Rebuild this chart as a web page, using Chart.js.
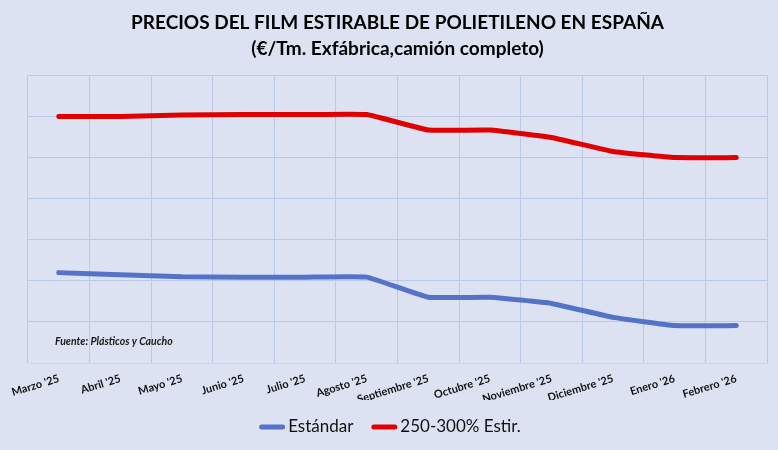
<!DOCTYPE html>
<html>
<head>
<meta charset="utf-8">
<script src="https://cdn.jsdelivr.net/npm/chart.js@4.4.1/dist/chart.umd.min.js"></script>
<style>
html,body{margin:0;padding:0;background:#DCE2F2;}
#wrap{width:778px;height:450px;position:relative;}
</style>
</head>
<body>
<div id="wrap"><canvas id="c" width="778" height="450"></canvas></div>
<script>
const categories = ["Marzo '25","Abril '25","Mayo '25","Junio '25","Julio '25","Agosto '25","Septiembre '25","Octubre '25","Noviembre '25","Diciembre '25","Enero '26","Febrero '26"];
const estandar = [1220,1215,1210,1209,1209,1209,1160,1160,1145,1111,1091,1091];
const estirado = [1600,1600,1604,1605,1605,1605,1567,1567,1549,1515,1500,1500];
const seriesNames = ["Estándar","250-300% Estir."];
const titleLines = ["PRECIOS DEL FILM ESTIRABLE DE POLIETILENO EN ESPAÑA","(€/Tm. Exfábrica,camión completo)"];
const sourceNote = "Fuente: Plásticos y Caucho";

const FONT = "Lato, 'Open Sans', sans-serif";
const sourcePlugin = {
  id:'sourceNote',
  afterDatasetsDraw(chart){
    const {ctx, chartArea} = chart;
    ctx.save();
    ctx.font = "italic bold 10.5px " + FONT;
    ctx.fillStyle = "#1a1a1a";
    ctx.textBaseline = "alphabetic";
    ctx.fillText(sourceNote, chartArea.left + 27, chartArea.bottom - 18);
    ctx.restore();
  }
};
const bgPlugin = {
  id:'bg',
  beforeDraw(chart){
    const ctx = chart.ctx;
    ctx.save();
    ctx.fillStyle = "#DCE2F2";
    ctx.fillRect(0,0,chart.width,chart.height);
    ctx.restore();
  }
};
const legendPlugin = {
  id:'customLegend',
  afterDraw(chart){
    const ctx = chart.ctx;
    ctx.save();
    ctx.font = "17px " + FONT;
    const marker = 26, gapText = 3, gapItem = 18;
    const items = chart.data.datasets.map(d => ({text:d.label, color:d.borderColor, w: marker + gapText + ctx.measureText(d.label).width}));
    const total = items.reduce((a,b)=>a+b.w,0) + gapItem*(items.length-1);
    let x = (chart.width - total)/2 + 1;
    const y = 427;
    items.forEach(it => {
      ctx.strokeStyle = it.color;
      ctx.lineWidth = 5;
      ctx.lineCap = 'round';
      ctx.beginPath();
      ctx.moveTo(x+2.5, y);
      ctx.lineTo(x+marker-2.5, y);
      ctx.stroke();
      ctx.fillStyle = "#111";
      ctx.textBaseline = 'middle';
      ctx.fillText(it.text, x + marker + gapText, y);
      x += it.w + gapItem;
    });
    ctx.restore();
  }
};

new Chart(document.getElementById('c'), {
  type:'line',
  data:{
    labels:categories,
    datasets:[
      {label:seriesNames[0], data:estandar, borderColor:"#5472C8", backgroundColor:"#5472C8", borderWidth:5, pointRadius:0, borderJoinStyle:'round', borderCapStyle:'round', tension:0.1},
      {label:seriesNames[1], data:estirado, borderColor:"#E00000", backgroundColor:"#E00000", borderWidth:5, pointRadius:0, borderJoinStyle:'round', borderCapStyle:'round', tension:0.1}
    ]
  },
  options:{
    responsive:false,
    animation:false,
    layout:{padding:{left:28,right:11,top:4,bottom:50}},
    plugins:{
      title:{display:true, text:titleLines, color:"#000", font:{family:FONT, size:19, weight:'bold', lineHeight:1.38}, padding:{top:6,bottom:13}},
      legend:{display:false},
      tooltip:{enabled:false}
    },
    scales:{
      x:{
        offset:true,
        grid:{offset:true, color:"#B9C9E8", lineWidth:1, drawTicks:false},
        border:{display:true, color:"#D4D4D4", width:1},
        ticks:{color:"#111", font:{family:FONT, size:11, weight:'bold'}, minRotation:17, maxRotation:17, padding:9, autoSkip:false},
        afterFit(s){ s.height = 37; }
      },
      y:{
        min:1000, max:1700,
        ticks:{display:false, stepSize:100},
        grid:{color:"#B9C9E8", lineWidth:1, drawTicks:false},
        border:{display:false},
        afterFit(s){ s.width = 0; }
      }
    }
  },
  plugins:[bgPlugin, sourcePlugin, legendPlugin]
});
</script>
</body>
</html>
